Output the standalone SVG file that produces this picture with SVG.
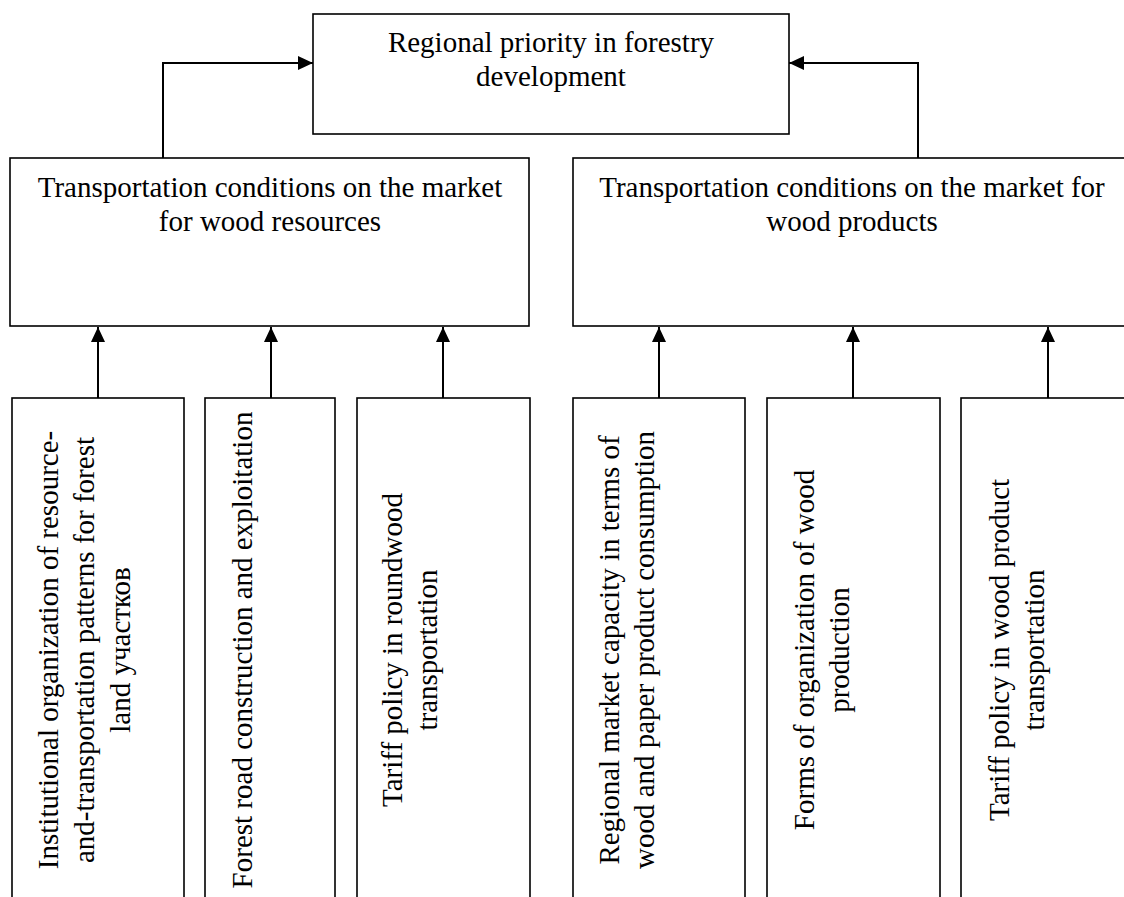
<svg xmlns="http://www.w3.org/2000/svg" width="1124" height="897" viewBox="0 0 1124 897">
<defs>
<style>
.box{fill:#fff;stroke:#000;stroke-width:1.6}
.t{font-family:"Liberation Serif","Times New Roman",serif;font-size:29px;fill:#000;text-anchor:middle}
.c{fill:none;stroke:#000;stroke-width:2;marker-end:url(#ah)}
</style>
<marker id="ah" viewBox="0 0 15 14" refX="15" refY="7" markerWidth="15" markerHeight="14" markerUnits="userSpaceOnUse" orient="auto">
<path d="M0,0 L15,7 L0,14 Z" fill="#000"/>
</marker>
</defs>
<rect width="1124" height="897" fill="#fff"/>
<g id="connectors">
<polyline class="c" points="163,158 163,63 313,63"/>
<polyline class="c" points="918,158 918,63 789,63"/>
<line class="c" x1="98" y1="398" x2="98" y2="327"/>
<line class="c" x1="271" y1="398" x2="271" y2="327"/>
<line class="c" x1="443" y1="398" x2="443" y2="327"/>
<line class="c" x1="659" y1="398" x2="659" y2="327"/>
<line class="c" x1="853" y1="398" x2="853" y2="327"/>
<line class="c" x1="1048" y1="398" x2="1048" y2="327"/>
</g>
<g id="top">
<rect class="box" x="313" y="14" width="476" height="120"/>
<text class="t" x="551" y="52">Regional priority in forestry</text>
<text class="t" x="551" y="86">development</text>
</g>
<g id="left-mid">
<rect class="box" x="10" y="158" width="519" height="168"/>
<text class="t" x="270" y="197">Transportation conditions on the market</text>
<text class="t" x="270" y="231">for wood resources</text>
</g>
<g id="right-mid">
<rect class="box" x="573" y="158" width="560" height="168"/>
<text class="t" x="852" y="197">Transportation conditions on the market for</text>
<text class="t" x="852" y="231">wood products</text>
</g>
<g id="b1">
<rect class="box" x="12" y="398" width="172" height="510"/>
<g transform="translate(0,650) rotate(-90)">
<text class="t" x="0" y="58">Institutional organization of resource-</text>
<text class="t" x="0" y="94">and-transportation patterns for forest</text>
<text class="t" x="0" y="130">land участков</text>
</g>
</g>
<g id="b2">
<rect class="box" x="205" y="398" width="130" height="510"/>
<g transform="translate(0,650) rotate(-90)">
<text class="t" x="0" y="252">Forest road construction and exploitation</text>
</g>
</g>
<g id="b3">
<rect class="box" x="357" y="398" width="173" height="510"/>
<g transform="translate(0,650) rotate(-90)">
<text class="t" x="0" y="402">Tariff policy in roundwood</text>
<text class="t" x="0" y="437">transportation</text>
</g>
</g>
<g id="b4">
<rect class="box" x="573" y="398" width="172" height="510"/>
<g transform="translate(0,650) rotate(-90)">
<text class="t" x="0" y="619">Regional market capacity in terms of</text>
<text class="t" x="0" y="654">wood and paper product consumption</text>
</g>
</g>
<g id="b5">
<rect class="box" x="767" y="398" width="173" height="510"/>
<g transform="translate(0,650) rotate(-90)">
<text class="t" x="0" y="814">Forms of organization of wood</text>
<text class="t" x="0" y="849">production</text>
</g>
</g>
<g id="b6">
<rect class="box" x="961" y="398" width="174" height="510"/>
<g transform="translate(0,650) rotate(-90)">
<text class="t" x="0" y="1009">Tariff policy in wood product</text>
<text class="t" x="0" y="1044">transportation</text>
</g>
</g>
</svg>
